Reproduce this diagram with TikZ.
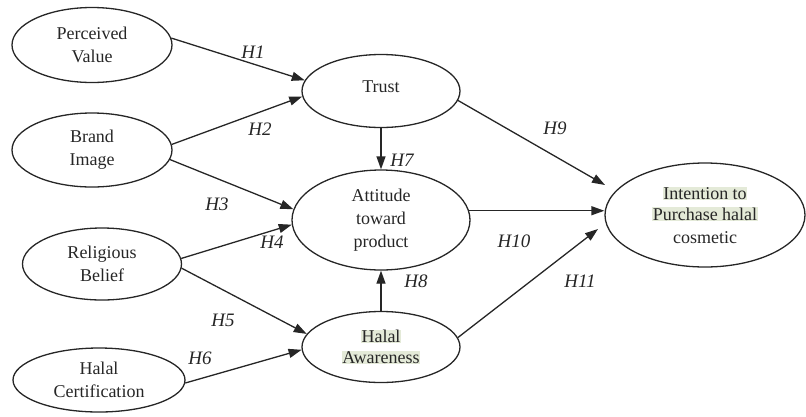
\documentclass[tikz,border=0pt]{standalone}
\usepackage{fontspec}
\setmainfont{Liberation Serif}
\usetikzlibrary{arrows.meta,shapes.geometric}
\definecolor{hlgreen}{RGB}{228,234,216}
\newcommand{\hl}[1]{{\setlength{\fboxsep}{0.6pt}\colorbox{hlgreen}{#1}}}

\begin{document}
\begin{tikzpicture}[x=1pt, y=-1pt, line width=1.3pt,
  var/.style={draw=black!85, ellipse, align=center, inner sep=0pt, text=black!85,
    font=\fontsize{18}{23}\selectfont},
  hyp/.style={text=black!85, font=\fontsize{19}{19}\selectfont\itshape},
  arr/.style={draw=black!85, -{Triangle[length=13pt,width=9pt]}}]
\useasboundingbox (0,0) rectangle (806,416);

% the constructs on the left
\node[var, minimum width=160pt, minimum height=75pt] (pv) at (92,45) {Perceived\\Value};
\node[var, minimum width=160pt, minimum height=74pt] (bi) at (92,150) {Brand\\Image};
\node[var, minimum width=159pt, minimum height=72pt] (rb) at (102,264) {Religious\\Belief};
\node[var, minimum width=172pt, minimum height=64pt] (hc) at (99,380) {Halal\\Certification};

% the middle column
\node[var, minimum width=158pt, minimum height=73pt] (trust) at (381,91) {\raisebox{8pt}{Trust}};
\node[var, minimum width=178pt, minimum height=100pt] (att) at (381,220) {Attitude\\toward\\product};
\node[var, minimum width=158pt, minimum height=71pt] (ha) at (381,347) {\hl{Halal}\\[-2pt]\hl{Awareness}};

% the outcome
\node[var, minimum width=200pt, minimum height=104pt] (int) at (705,215)
  {\hl{Intention to}\\[-2pt]\hl{Purchase halal}\\cosmetic};
\coordinate (in9) at (605,185);
\coordinate (in11) at (598,229);

% paths
\draw[arr] (pv.5) -- (trust.172);
\draw[arr] (bi.4) -- (trust.184);
\draw[arr] (bi.-7) -- (att.173);
\draw[arr] (rb.4) -- (att.183);
\draw[arr] (rb.-3) -- (ha.170);
\draw[arr] (hc.-2) -- (ha.182);
\draw[arr] (trust.south) -- (att.north);
\draw[arr] (ha.north) -- (att.south);
\draw[arr] (trust.-7) -- (in9);
\draw[arr] (att.6) -- (att.6 -| int.west);
\draw[arr] (ha.7) -- (in11);

% hypothesis labels
\node[hyp] (h1) at (253,52) {H1};
\node[hyp] (h2) at (260,129) {H2};
\node[hyp] (h3) at (217,204) {H3};
\node[hyp] (h4) at (272,242) {H4};
\node[hyp] (h5) at (223,320) {H5};
\node[hyp] (h6) at (200,358) {H6};
\node[hyp] (h7) at (402,160) {H7};
\node[hyp] (h8) at (416,281) {H8};
\node[hyp] (h9) at (555,128) {H9};
\node[hyp] (h10) at (514,241) {H10};
\node[hyp] (h11) at (580,281) {H11};
\end{tikzpicture}
\end{document}
